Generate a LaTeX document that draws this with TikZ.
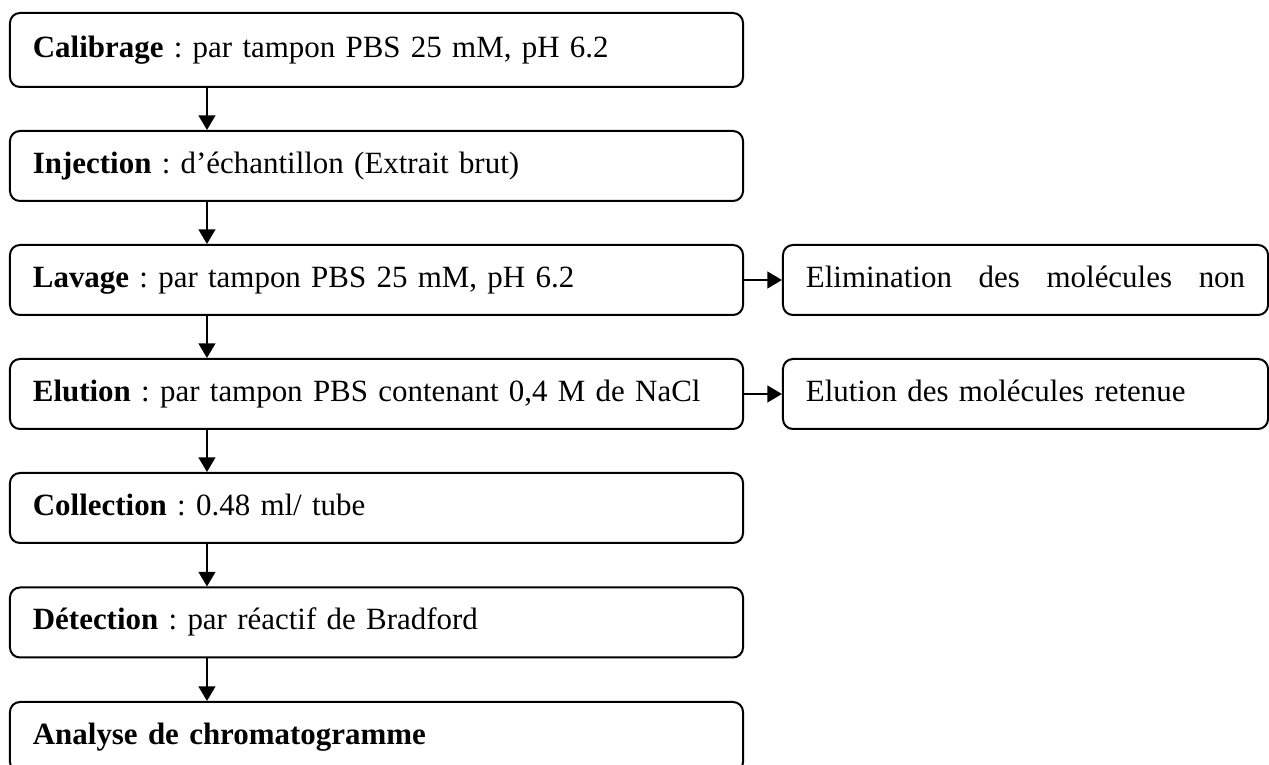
\documentclass[tikz,border=0pt]{standalone}
\usepackage{fontspec}
\setmainfont{Liberation Serif}
\usetikzlibrary{shapes,arrows.meta,positioning}
\frenchspacing

\begin{document}
\begin{tikzpicture}[x=0.375pt, y=-0.375pt]
			\tikzstyle{Step}	= [draw, rounded corners=3.75pt, line width=0.75pt, minimum width=274.9pt, minimum height=26.25pt, inner xsep=8.6pt, inner ysep=0pt, text width=257.7pt, align=left, font=\fontsize{11.6}{14}\selectfont]
			\tikzstyle{Note}	= [Step, minimum width=181.9pt, text width=164.7pt]
			\tikzstyle{Flow}	= [line width=0.75pt, -{Triangle[length=5.5pt, width=6.3pt]}]
			
			\useasboundingbox (0,0) rectangle (1269,765);
			
			\node (b1) at (376.5,50) [Step][minimum height=27.75pt] {\strut\textbf{Calibrage} : par tampon PBS 25 mM, pH 6.2};
			\node (b2) at (376.5,166) [Step] {\strut\textbf{Injection} : d’échantillon (Extrait brut)};
			\node (b3) at (376.5,280) [Step] {\strut\textbf{Lavage} : par tampon PBS 25 mM, pH 6.2};
			\node (b4) at (376.5,394) [Step] {\strut\textbf{Elution} : par tampon PBS contenant 0,4 M de NaCl};
			\node (b5) at (376.5,508) [Step] {\strut\textbf{Collection} : 0.48 ml/ tube};
			\node (b6) at (376.5,622.5) [Step] {\strut\textbf{Détection} : par réactif de Bradford};
			\node (b7) at (376.5,737) [Step] {\strut\textbf{Analyse de chromatogramme}};
			\node (r3) at (1025.5,280) [Note] {\strut\makebox[\linewidth][s]{Elimination\hfill des\hfill molécules\hfill non}};
			\node (r4) at (1025.5,394) [Note] {\strut Elution des molécules retenue};
			
			\draw [Flow] ([xshift=74.25pt]b1.south west) to ([xshift=74.25pt]b2.north west);
			\draw [Flow] ([xshift=74.25pt]b2.south west) to ([xshift=74.25pt]b3.north west);
			\draw [Flow] ([xshift=74.25pt]b3.south west) to ([xshift=74.25pt]b4.north west);
			\draw [Flow] ([xshift=74.25pt]b4.south west) to ([xshift=74.25pt]b5.north west);
			\draw [Flow] ([xshift=74.25pt]b5.south west) to ([xshift=74.25pt]b6.north west);
			\draw [Flow] ([xshift=74.25pt]b6.south west) to ([xshift=74.25pt]b7.north west);
			\draw [Flow] (b3) to (r3);
			\draw [Flow] (b4) to (r4);
		\end{tikzpicture}
\end{document}
